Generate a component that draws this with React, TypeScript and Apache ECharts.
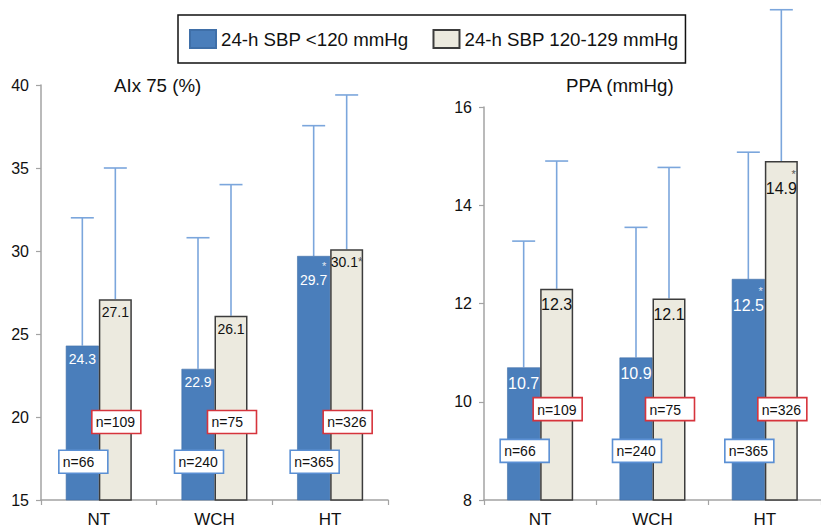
import React, { useEffect, useRef } from "react";
import * as echarts from "echarts";

// ---- data ----
const categories = ["NT", "WCH", "HT"];
const seriesLowName = "24-h SBP <120 mmHg";
const seriesHighName = "24-h SBP 120-129 mmHg";

const aixLow = [24.3, 22.9, 29.7];
const aixHigh = [27.1, 26.1, 30.1];
const aixLowErr = [32.0, 30.8, 37.55];
const aixHighErr = [35.0, 34.0, 39.4];
const aixLowStar = ["", "", "above"];
const aixHighStar = ["", "", "after"];

const ppaLow = [10.7, 10.9, 12.5];
const ppaHigh = [12.3, 12.1, 14.9];
const ppaLowErr = [13.27, 13.55, 15.08];
const ppaHighErr = [14.9, 14.77, 17.98];
const ppaLowStar = ["", "", "above"];
const ppaHighStar = ["", "", "above"];

const nLow = [66, 240, 365];
const nHigh = [109, 75, 326];

const aixTicks = { min: 15, max: 40, interval: 5 };
const ppaTicks = { min: 8, max: 16, interval: 2 };

// ---- styles ----
const FONT = "'Liberation Sans', Arial, Helvetica, sans-serif";
const BLUE = "#4a7ebb";
const BEIGE = "#eceadf";
const BEIGE_BORDER = "#3c3c3c";
const ERR = "#7ba6dc";
const AXIS = "#a3a3a3";
const BOX_BLUE = "#5a8fd4";
const BOX_RED = "#d6343c";
const BAR_W = 33;

function makeLabel(stars: string[], size: number, color: string, starColor: string, dist: number) {
  return {
    show: true,
    position: "insideTop",
    distance: dist,
    fontFamily: FONT,
    formatter: (p: any) => {
      const v = Number(p.value).toFixed(1);
      const s = stars[p.dataIndex];
      if (s === "above") return `{s|*}\n{v|${v}}`;
      if (s === "after") return `{v|${v}}{sa|*}`;
      return `{v|${v}}`;
    },
    rich: {
      v: { fontSize: size, color, fontFamily: FONT, lineHeight: size + 2 },
      s: { fontSize: 11, color: starColor, fontFamily: FONT, lineHeight: 11, align: "right", padding: [0, 1, 0, 0] },
      sa: { fontSize: 12, color: starColor, fontFamily: FONT, lineHeight: size + 2 },
    },
  };
}

function errSeries(gi: number, vals: number[], errs: number[], offset: number) {
  return {
    type: "custom",
    name: "err" + gi + offset,
    xAxisIndex: gi,
    yAxisIndex: gi,
    z: 1,
    clip: false,
    silent: true,
    encode: { x: 0, y: 1 },
    data: categories.map((_, i) => [i, vals[i], errs[i]]),
    renderItem: (params: any, api: any) => {
      const base = api.coord([api.value(0), api.value(1)]);
      const top = api.coord([api.value(0), api.value(2)]);
      const cx = base[0] + offset;
      const st = { stroke: ERR, lineWidth: 1.6 };
      return {
        type: "group",
        children: [
          { type: "line", shape: { x1: cx, y1: base[1], x2: cx, y2: top[1] }, style: st },
          { type: "line", shape: { x1: cx - 11.5, y1: top[1], x2: cx + 11.5, y2: top[1] }, style: st },
        ],
      };
    },
  };
}

function boxSeries(gi: number, ns: number[], level: number, offset: number, border: string) {
  return {
    type: "custom",
    name: "box" + gi + offset,
    xAxisIndex: gi,
    yAxisIndex: gi,
    z: 5,
    clip: false,
    silent: true,
    encode: { x: 0 },
    data: categories.map((_, i) => [i, ns[i]]),
    renderItem: (params: any, api: any) => {
      const c = api.coord([api.value(0), level]);
      const cx = c[0] + offset + 1;
      const w = 49;
      const h = 23;
      return {
        type: "group",
        children: [
          {
            type: "rect",
            shape: { x: cx - w / 2, y: c[1] - h / 2, width: w, height: h },
            style: { fill: "#ffffff", stroke: border, lineWidth: 1.6 },
          },
          {
            type: "text",
            style: {
              x: cx - w / 2 + 4,
              y: c[1] + 0.5,
              text: "n=" + api.value(1),
              fill: "#111",
              fontSize: 14,
              fontFamily: FONT,
              align: "left",
              verticalAlign: "middle",
            },
          },
        ],
      };
    },
  };
}

function panelSeries(
  gi: number,
  low: number[],
  high: number[],
  lowErr: number[],
  highErr: number[],
  lowStar: string[],
  highStar: string[],
  labelSize: number,
  dist: number,
  lowLevel: number,
  highLevel: number
) {
  return [
    errSeries(gi, low, lowErr, -BAR_W / 2),
    errSeries(gi, high, highErr, BAR_W / 2),
    {
      type: "bar",
      name: seriesLowName,
      xAxisIndex: gi,
      yAxisIndex: gi,
      barWidth: BAR_W,
      barGap: "0%",
      z: 2,
      data: low,
      itemStyle: { color: BLUE, borderColor: "#3f6fa8", borderWidth: 0.6 },
      label: makeLabel(lowStar, labelSize, "#ffffff", "#e4e8f0", dist),
    },
    {
      type: "bar",
      name: seriesHighName,
      xAxisIndex: gi,
      yAxisIndex: gi,
      barWidth: BAR_W,
      barGap: "0%",
      z: 2,
      data: high,
      itemStyle: { color: BEIGE, borderColor: BEIGE_BORDER, borderWidth: 1.5 },
      label: makeLabel(highStar, labelSize, "#111111", "#555555", dist),
    },
    boxSeries(gi, nLow, lowLevel, -BAR_W / 2, BOX_BLUE),
    boxSeries(gi, nHigh, highLevel, BAR_W / 2, BOX_RED),
  ];
}

function xAxis(gi: number) {
  return {
    type: "category",
    gridIndex: gi,
    data: categories,
    axisLine: { show: true, lineStyle: { color: AXIS, width: 1.5 } },
    axisTick: { show: true, length: 5, lineStyle: { color: AXIS, width: 1.2 } },
    axisLabel: { fontSize: 17, color: "#111", fontFamily: FONT, margin: 11 },
  };
}

function yAxis(gi: number, t: { min: number; max: number; interval: number }) {
  return {
    type: "value",
    gridIndex: gi,
    min: t.min,
    max: t.max,
    interval: t.interval,
    axisLine: { show: true, lineStyle: { color: AXIS, width: 1.5 } },
    axisTick: { show: true, length: 5, lineStyle: { color: AXIS, width: 1.2 } },
    splitLine: { show: false },
    axisLabel: { fontSize: 16, color: "#111", fontFamily: FONT, margin: 12 },
  };
}

export default function App() {
  const ref = useRef<HTMLDivElement>(null);
  useEffect(() => {
    if (!ref.current) return;
    const chart = echarts.init(ref.current, null, { renderer: "svg" });
    chart.setOption({
      animation: false,
      backgroundColor: "#ffffff",
      textStyle: { fontFamily: FONT },
      title: [
        {
          text: "AIx 75 (%)",
          left: 114,
          top: 74,
          padding: 0,
          textStyle: { fontSize: 18.7, fontWeight: "normal", color: "#111", fontFamily: FONT, lineHeight: 22 },
        },
        {
          text: "PPA (mmHg)",
          left: 566,
          top: 74,
          padding: 0,
          textStyle: { fontSize: 18.7, fontWeight: "normal", color: "#111", fontFamily: FONT, lineHeight: 22 },
        },
      ],
      legend: {
        data: [seriesLowName, seriesHighName],
        left: 178,
        top: 15,
        padding: [13, 7, 13, 11],
        itemGap: 24,
        itemWidth: 26,
        itemHeight: 18,
        icon: "rect",
        borderColor: "#111",
        borderWidth: 1.5,
        selectedMode: false,
        textStyle: { fontSize: 18.7, color: "#111", fontFamily: FONT, lineHeight: 22 },
      },
      grid: [
        { left: 41, top: 85, width: 347, height: 417 },
        { left: 484, top: 107, width: 349, height: 401 },
      ],
      xAxis: [xAxis(0), xAxis(1)],
      yAxis: [yAxis(0, aixTicks), yAxis(1, ppaTicks)],
      series: [
        ...panelSeries(0, aixLow, aixHigh, aixLowErr, aixHighErr, aixLowStar, aixHighStar, 14, 5, 17.3, 19.7),
        ...panelSeries(1, ppaLow, ppaHigh, ppaLowErr, ppaHighErr, ppaLowStar, ppaHighStar, 16, 7, 9.0, 9.85),
      ],
    });
    return () => chart.dispose();
  }, []);
  return <div ref={ref} style={{ position: "fixed", left: 0, top: 0, width: 821, height: 528 }} />;
}
